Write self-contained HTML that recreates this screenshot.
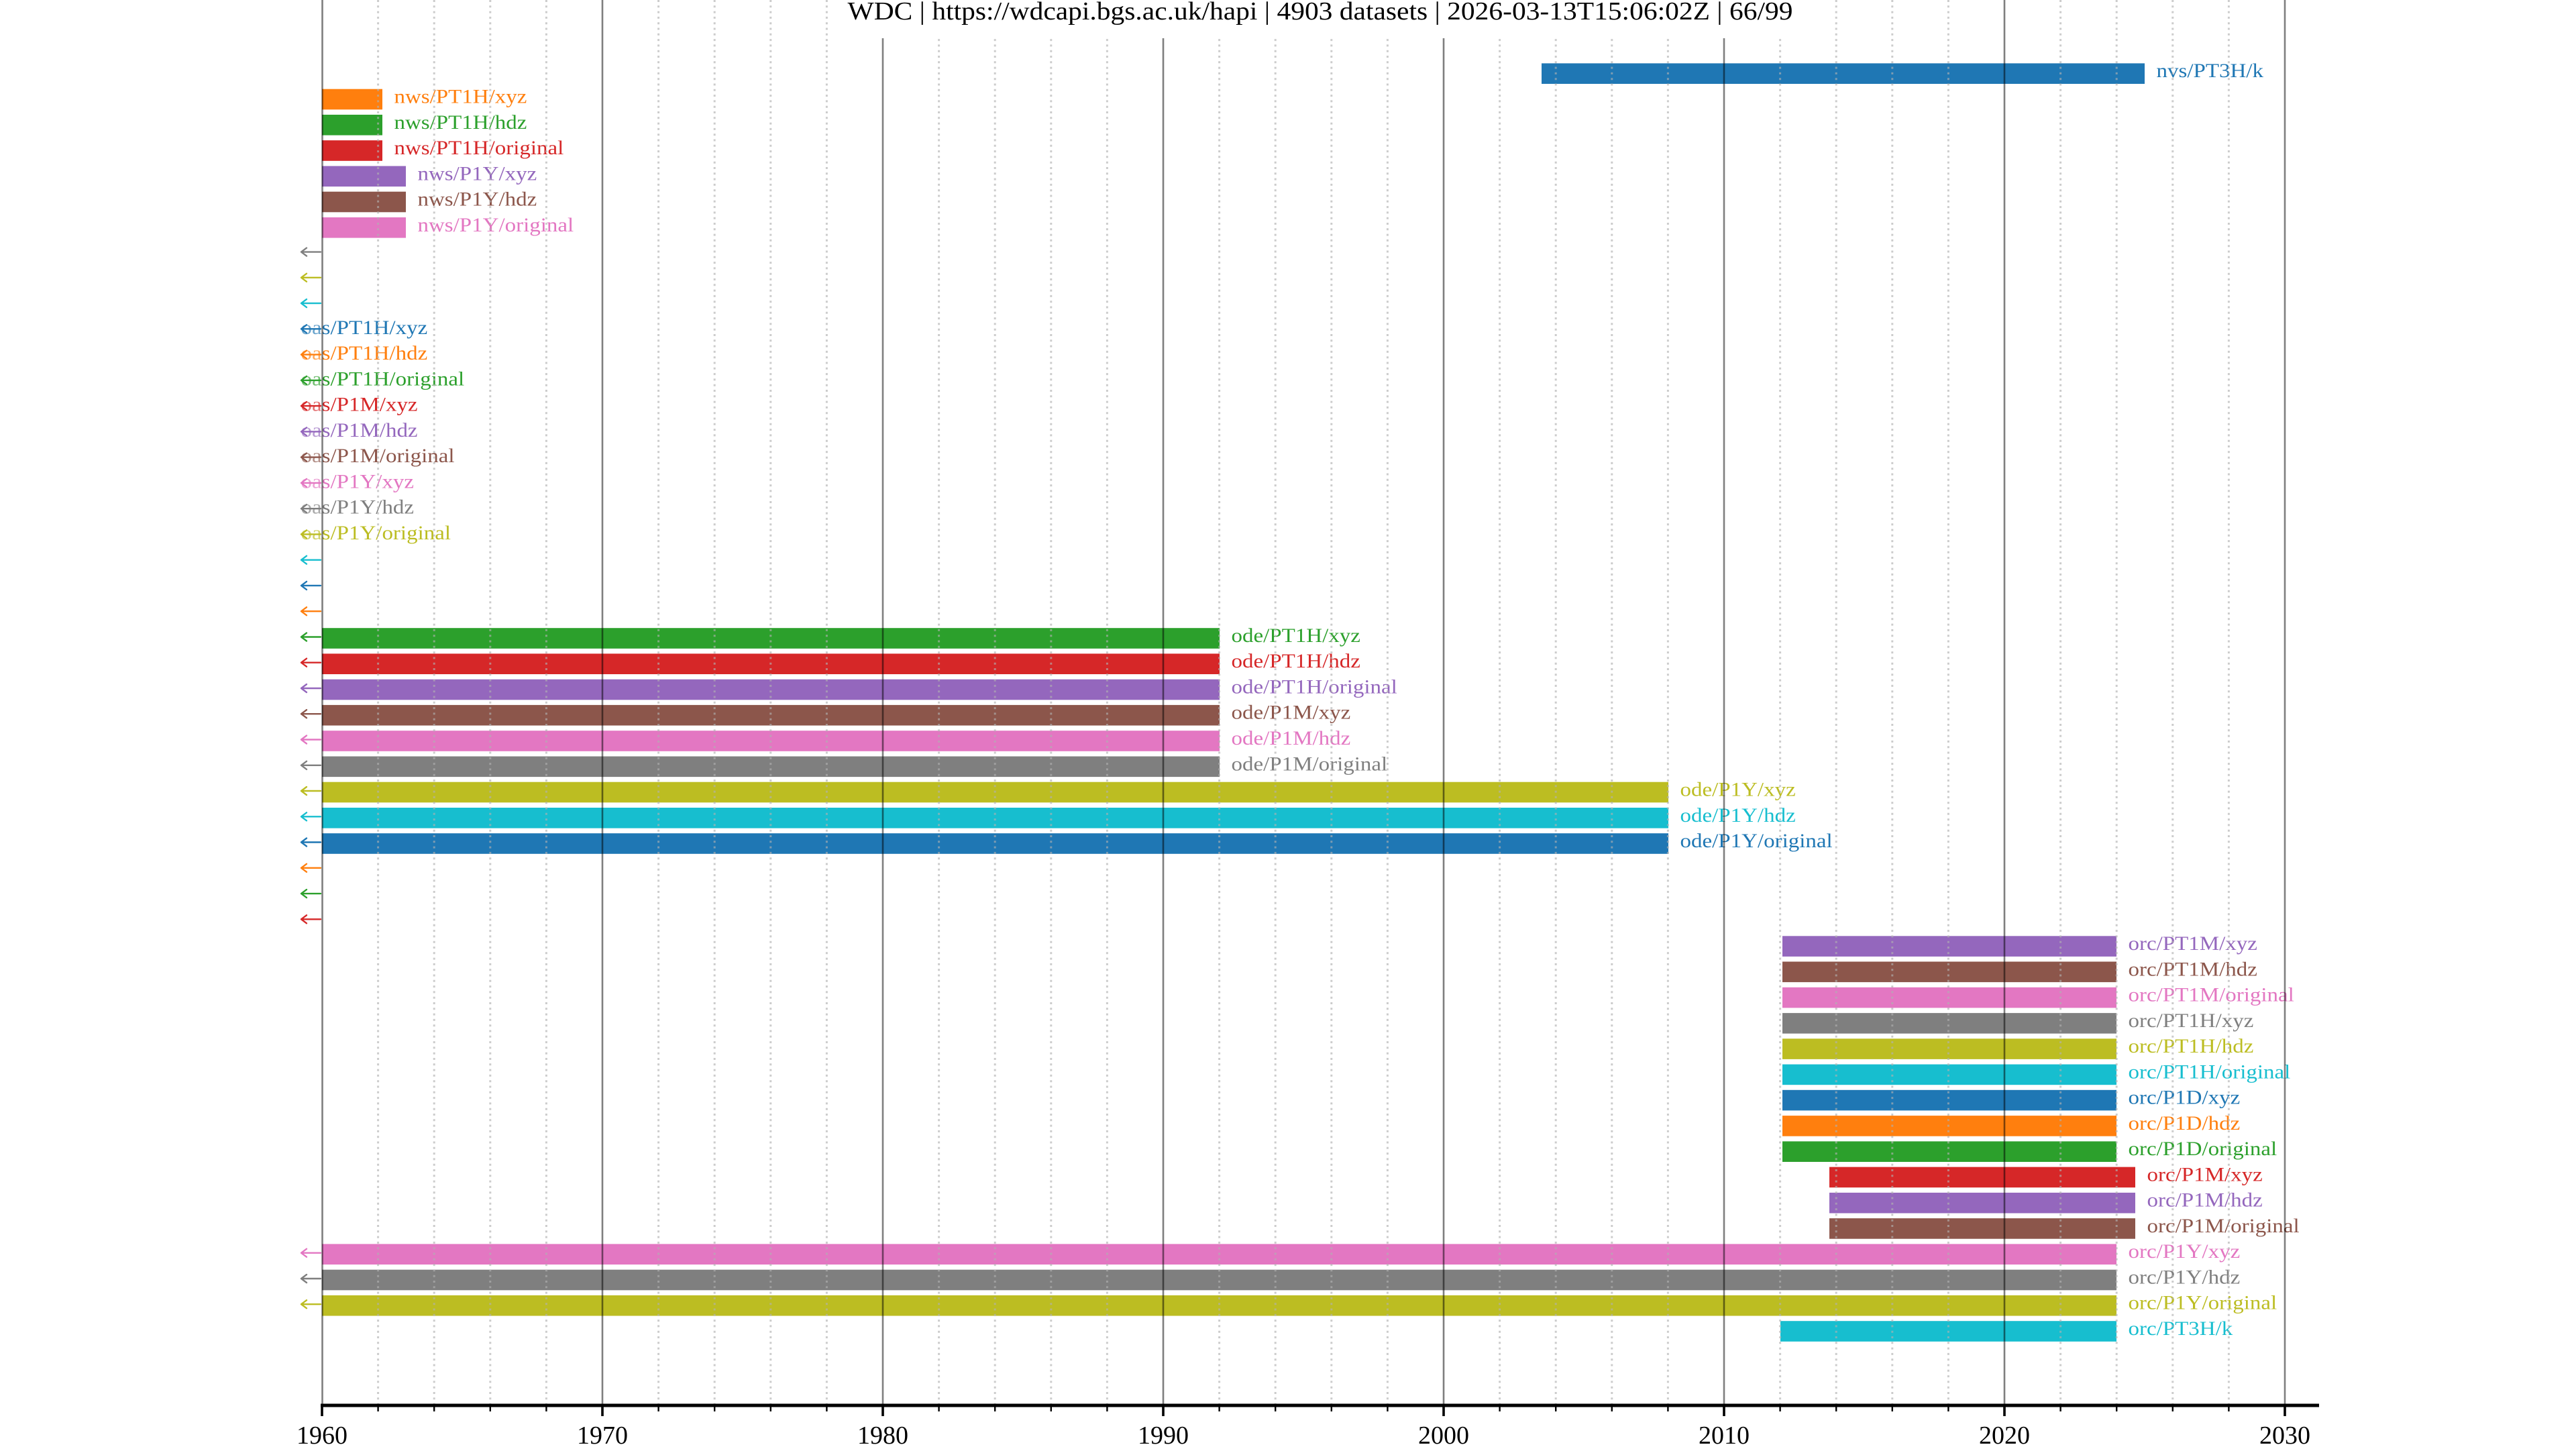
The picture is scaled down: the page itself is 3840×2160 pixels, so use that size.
<!DOCTYPE html>
<html>
<head>
<meta charset="utf-8">
<style>
html,body{margin:0;padding:0;background:#fff;overflow:hidden;}
svg{display:block;}
</style>
</head>
<body>
<svg xmlns="http://www.w3.org/2000/svg" width="3840" height="2160" viewBox="0 0 3840 2160">
<rect x="0" y="0" width="3840" height="2160" fill="#fff"/>

<!-- Bars -->
<g>
<rect x="2298" y="94.4" width="899" height="30.6" fill="#1f77b4"/>
<rect x="480" y="132.7" width="90" height="30.6" fill="#ff7f0e"/>
<rect x="480" y="171.0" width="90" height="30.6" fill="#2ca02c"/>
<rect x="480" y="209.2" width="90" height="30.6" fill="#d62728"/>
<rect x="480" y="247.5" width="125" height="30.6" fill="#9467bd"/>
<rect x="480" y="285.7" width="125" height="30.6" fill="#8c564b"/>
<rect x="480" y="324.0" width="125" height="30.6" fill="#e377c2"/>

<rect x="480" y="936.2" width="1338" height="30.6" fill="#2ca02c"/>
<rect x="480" y="974.4" width="1338" height="30.6" fill="#d62728"/>
<rect x="480" y="1012.7" width="1338" height="30.6" fill="#9467bd"/>
<rect x="480" y="1050.9" width="1338" height="30.6" fill="#8c564b"/>
<rect x="480" y="1089.2" width="1338" height="30.6" fill="#e377c2"/>
<rect x="480" y="1127.5" width="1338" height="30.6" fill="#7f7f7f"/>
<rect x="480" y="1165.7" width="2007" height="30.6" fill="#bcbd22"/>
<rect x="480" y="1204.0" width="2007" height="30.6" fill="#17becf"/>
<rect x="480" y="1242.2" width="2007" height="30.6" fill="#1f77b4"/>

<rect x="2657" y="1395.3" width="498" height="30.6" fill="#9467bd"/>
<rect x="2657" y="1433.5" width="498" height="30.6" fill="#8c564b"/>
<rect x="2657" y="1471.8" width="498" height="30.6" fill="#e377c2"/>
<rect x="2657" y="1510.1" width="498" height="30.6" fill="#7f7f7f"/>
<rect x="2657" y="1548.3" width="498" height="30.6" fill="#bcbd22"/>
<rect x="2657" y="1586.6" width="498" height="30.6" fill="#17becf"/>
<rect x="2657" y="1624.8" width="498" height="30.6" fill="#1f77b4"/>
<rect x="2657" y="1663.1" width="498" height="30.6" fill="#ff7f0e"/>
<rect x="2657" y="1701.4" width="498" height="30.6" fill="#2ca02c"/>
<rect x="2727" y="1739.6" width="456" height="30.6" fill="#d62728"/>
<rect x="2727" y="1777.9" width="456" height="30.6" fill="#9467bd"/>
<rect x="2727" y="1816.1" width="456" height="30.6" fill="#8c564b"/>
<rect x="480" y="1854.4" width="2675" height="30.6" fill="#e377c2"/>
<rect x="480" y="1892.7" width="2675" height="30.6" fill="#7f7f7f"/>
<rect x="480" y="1930.9" width="2675" height="30.6" fill="#bcbd22"/>
<rect x="2654" y="1969.2" width="501" height="30.6" fill="#17becf"/>
</g>

<!-- Labels -->
<g font-family="'Liberation Serif', 'Times New Roman', serif" font-size="33">
<text transform="translate(3214.5,115.2) scale(1,0.9)" fill="#1f77b4">nvs/PT3H/k</text>
<text transform="translate(587.5,153.5) scale(1,0.9)" fill="#ff7f0e">nws/PT1H/xyz</text>
<text transform="translate(587.5,191.8) scale(1,0.9)" fill="#2ca02c">nws/PT1H/hdz</text>
<text transform="translate(587.5,230.0) scale(1,0.9)" fill="#d62728">nws/PT1H/original</text>
<text transform="translate(622.5,268.3) scale(1,0.9)" fill="#9467bd">nws/P1Y/xyz</text>
<text transform="translate(622.5,306.5) scale(1,0.9)" fill="#8c564b">nws/P1Y/hdz</text>
<text transform="translate(622.5,344.8) scale(1,0.9)" fill="#e377c2">nws/P1Y/original</text>

<text transform="translate(448.5,497.8) scale(1,0.9)" fill="#1f77b4">oas/PT1H/xyz</text>
<text transform="translate(448.5,536.1) scale(1,0.9)" fill="#ff7f0e">oas/PT1H/hdz</text>
<text transform="translate(448.5,574.4) scale(1,0.9)" fill="#2ca02c">oas/PT1H/original</text>
<text transform="translate(448.5,612.6) scale(1,0.9)" fill="#d62728">oas/P1M/xyz</text>
<text transform="translate(448.5,650.9) scale(1,0.9)" fill="#9467bd">oas/P1M/hdz</text>
<text transform="translate(448.5,689.1) scale(1,0.9)" fill="#8c564b">oas/P1M/original</text>
<text transform="translate(448.5,727.4) scale(1,0.9)" fill="#e377c2">oas/P1Y/xyz</text>
<text transform="translate(448.5,765.7) scale(1,0.9)" fill="#7f7f7f">oas/P1Y/hdz</text>
<text transform="translate(448.5,803.9) scale(1,0.9)" fill="#bcbd22">oas/P1Y/original</text>

<text transform="translate(1835.5,957.0) scale(1,0.9)" fill="#2ca02c">ode/PT1H/xyz</text>
<text transform="translate(1835.5,995.2) scale(1,0.9)" fill="#d62728">ode/PT1H/hdz</text>
<text transform="translate(1835.5,1033.5) scale(1,0.9)" fill="#9467bd">ode/PT1H/original</text>
<text transform="translate(1835.5,1071.7) scale(1,0.9)" fill="#8c564b">ode/P1M/xyz</text>
<text transform="translate(1835.5,1110.0) scale(1,0.9)" fill="#e377c2">ode/P1M/hdz</text>
<text transform="translate(1835.5,1148.3) scale(1,0.9)" fill="#7f7f7f">ode/P1M/original</text>
<text transform="translate(2504.5,1186.5) scale(1,0.9)" fill="#bcbd22">ode/P1Y/xyz</text>
<text transform="translate(2504.5,1224.8) scale(1,0.9)" fill="#17becf">ode/P1Y/hdz</text>
<text transform="translate(2504.5,1263.0) scale(1,0.9)" fill="#1f77b4">ode/P1Y/original</text>

<text transform="translate(3172.5,1416.1) scale(1,0.9)" fill="#9467bd">orc/PT1M/xyz</text>
<text transform="translate(3172.5,1454.3) scale(1,0.9)" fill="#8c564b">orc/PT1M/hdz</text>
<text transform="translate(3172.5,1492.6) scale(1,0.9)" fill="#e377c2">orc/PT1M/original</text>
<text transform="translate(3172.5,1530.9) scale(1,0.9)" fill="#7f7f7f">orc/PT1H/xyz</text>
<text transform="translate(3172.5,1569.1) scale(1,0.9)" fill="#bcbd22">orc/PT1H/hdz</text>
<text transform="translate(3172.5,1607.4) scale(1,0.9)" fill="#17becf">orc/PT1H/original</text>
<text transform="translate(3172.5,1645.6) scale(1,0.9)" fill="#1f77b4">orc/P1D/xyz</text>
<text transform="translate(3172.5,1683.9) scale(1,0.9)" fill="#ff7f0e">orc/P1D/hdz</text>
<text transform="translate(3172.5,1722.2) scale(1,0.9)" fill="#2ca02c">orc/P1D/original</text>
<text transform="translate(3200.5,1760.4) scale(1,0.9)" fill="#d62728">orc/P1M/xyz</text>
<text transform="translate(3200.5,1798.7) scale(1,0.9)" fill="#9467bd">orc/P1M/hdz</text>
<text transform="translate(3200.5,1836.9) scale(1,0.9)" fill="#8c564b">orc/P1M/original</text>
<text transform="translate(3172.5,1875.2) scale(1,0.9)" fill="#e377c2">orc/P1Y/xyz</text>
<text transform="translate(3172.5,1913.5) scale(1,0.9)" fill="#7f7f7f">orc/P1Y/hdz</text>
<text transform="translate(3172.5,1951.7) scale(1,0.9)" fill="#bcbd22">orc/P1Y/original</text>
<text transform="translate(3172.5,1990.0) scale(1,0.9)" fill="#17becf">orc/PT3H/k</text>
</g>

<!-- fade of label parts left of axis -->
<rect x="440" y="470" width="39" height="345" fill="#fff" fill-opacity="0.35"/>

<!-- Arrows -->
<g fill="none" stroke-width="2.4" stroke-linecap="round" stroke-linejoin="round">
<path d="M478 375.6H449M457 369.6L449 375.6L457 381.6" stroke="#7f7f7f"/>
<path d="M478 413.8H449M457 407.8L449 413.8L457 419.8" stroke="#bcbd22"/>
<path d="M478 452.1H449M457 446.1L449 452.1L457 458.1" stroke="#17becf"/>
<path d="M478 490.3H449M457 484.3L449 490.3L457 496.3" stroke="#1f77b4"/>
<path d="M478 528.6H449M457 522.6L449 528.6L457 534.6" stroke="#ff7f0e"/>
<path d="M478 566.9H449M457 560.9L449 566.9L457 572.9" stroke="#2ca02c"/>
<path d="M478 605.1H449M457 599.1L449 605.1L457 611.1" stroke="#d62728"/>
<path d="M478 643.4H449M457 637.4L449 643.4L457 649.4" stroke="#9467bd"/>
<path d="M478 681.6H449M457 675.6L449 681.6L457 687.6" stroke="#8c564b"/>
<path d="M478 719.9H449M457 713.9L449 719.9L457 725.9" stroke="#e377c2"/>
<path d="M478 758.2H449M457 752.2L449 758.2L457 764.2" stroke="#7f7f7f"/>
<path d="M478 796.4H449M457 790.4L449 796.4L457 802.4" stroke="#bcbd22"/>
<path d="M478 834.7H449M457 828.7L449 834.7L457 840.7" stroke="#17becf"/>
<path d="M478 872.9H449M457 866.9L449 872.9L457 878.9" stroke="#1f77b4"/>
<path d="M478 911.2H449M457 905.2L449 911.2L457 917.2" stroke="#ff7f0e"/>
<path d="M478 949.5H449M457 943.5L449 949.5L457 955.5" stroke="#2ca02c"/>
<path d="M478 987.7H449M457 981.7L449 987.7L457 993.7" stroke="#d62728"/>
<path d="M478 1026.0H449M457 1020.0L449 1026.0L457 1032.0" stroke="#9467bd"/>
<path d="M478 1064.2H449M457 1058.2L449 1064.2L457 1070.2" stroke="#8c564b"/>
<path d="M478 1102.5H449M457 1096.5L449 1102.5L457 1108.5" stroke="#e377c2"/>
<path d="M478 1140.8H449M457 1134.8L449 1140.8L457 1146.8" stroke="#7f7f7f"/>
<path d="M478 1179.0H449M457 1173.0L449 1179.0L457 1185.0" stroke="#bcbd22"/>
<path d="M478 1217.3H449M457 1211.3L449 1217.3L457 1223.3" stroke="#17becf"/>
<path d="M478 1255.5H449M457 1249.5L449 1255.5L457 1261.5" stroke="#1f77b4"/>
<path d="M478 1293.8H449M457 1287.8L449 1293.8L457 1299.8" stroke="#ff7f0e"/>
<path d="M478 1332.1H449M457 1326.1L449 1332.1L457 1338.1" stroke="#2ca02c"/>
<path d="M478 1370.3H449M457 1364.3L449 1370.3L457 1376.3" stroke="#d62728"/>
<path d="M478 1867.7H449M457 1861.7L449 1867.7L457 1873.7" stroke="#e377c2"/>
<path d="M478 1906.0H449M457 1900.0L449 1906.0L457 1912.0" stroke="#7f7f7f"/>
<path d="M478 1944.2H449M457 1938.2L449 1944.2L457 1950.2" stroke="#bcbd22"/>
</g>

<!-- Minor dotted gridlines -->
<path fill="none" stroke="#b0b0b0" stroke-opacity="0.65" stroke-width="3" stroke-dasharray="3 5.3"
 d="M563.6 0V2093M647.2 0V2093M730.8 0V2093M814.4 0V2093
 M981.6 0V2093M1065.2 0V2093M1148.8 0V2093M1232.4 0V2093
 M1399.6 0V2093M1483.2 0V2093M1566.8 0V2093M1650.4 0V2093
 M1817.6 0V2093M1901.2 0V2093M1984.8 0V2093M2068.4 0V2093
 M2235.6 0V2093M2319.2 0V2093M2402.8 0V2093M2486.4 0V2093
 M2653.6 0V2093M2737.2 0V2093M2820.8 0V2093M2904.4 0V2093
 M3071.6 0V2093M3155.2 0V2093M3238.8 0V2093M3322.4 0V2093"/>

<!-- Major gridlines -->
<path fill="none" stroke="#000" stroke-opacity="0.5" stroke-width="2.6"
 d="M480.5 0V2093M898 0V2093M1316 0V2093M1734 0V2093M2152 0V2093M2570 0V2093M2988 0V2093M3406 0V2093"/>

<!-- X axis -->
<line x1="478" y1="2095" x2="3457" y2="2095" stroke="#000" stroke-width="5"/>
<path fill="none" stroke="#000" stroke-width="3.6"
 d="M480 2095V2111M898 2095V2111M1316 2095V2111M1734 2095V2111M2152 2095V2111M2570 2095V2111M2988 2095V2111M3406 2095V2111"/>
<path fill="none" stroke="#000" stroke-width="2.4"
 d="M563.6 2095V2104M647.2 2095V2104M730.8 2095V2104M814.4 2095V2104
 M981.6 2095V2104M1065.2 2095V2104M1148.8 2095V2104M1232.4 2095V2104
 M1399.6 2095V2104M1483.2 2095V2104M1566.8 2095V2104M1650.4 2095V2104
 M1817.6 2095V2104M1901.2 2095V2104M1984.8 2095V2104M2068.4 2095V2104
 M2235.6 2095V2104M2319.2 2095V2104M2402.8 2095V2104M2486.4 2095V2104
 M2653.6 2095V2104M2737.2 2095V2104M2820.8 2095V2104M2904.4 2095V2104
 M3071.6 2095V2104M3155.2 2095V2104M3238.8 2095V2104M3322.4 2095V2104"/>

<g font-family="'Liberation Serif', 'Times New Roman', serif" font-size="38" fill="#000" text-anchor="middle">
<text x="480" y="2152">1960</text>
<text x="898" y="2152">1970</text>
<text x="1316" y="2152">1980</text>
<text x="1734" y="2152">1990</text>
<text x="2152" y="2152">2000</text>
<text x="2570" y="2152">2010</text>
<text x="2988" y="2152">2020</text>
<text x="3406" y="2152">2030</text>
</g>

<!-- Title -->
<rect x="1240" y="-5" width="1458" height="62" fill="#fff"/>
<text transform="translate(1968,29) scale(1,0.92)" font-family="'Liberation Serif', 'Times New Roman', serif" font-size="41.5" fill="#000" text-anchor="middle">WDC | https://wdcapi.bgs.ac.uk/hapi | 4903 datasets | 2026-03-13T15:06:02Z | 66/99</text>
</svg>
</body>
</html>
